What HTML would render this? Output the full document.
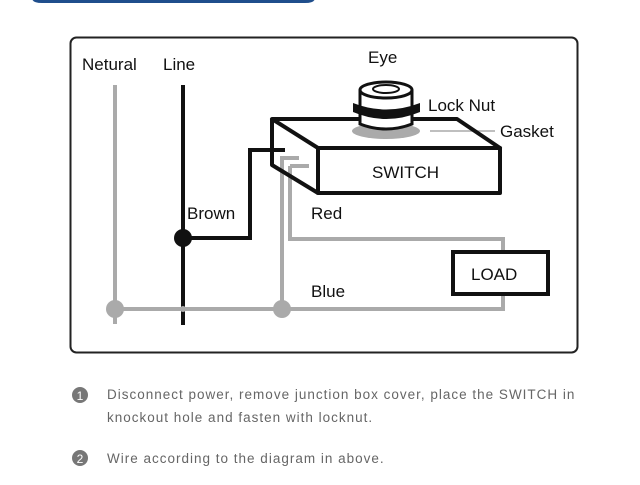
<!DOCTYPE html>
<html><head><style>
body{margin:0;width:640px;height:480px;background:#fff;overflow:hidden;font-family:"Liberation Sans",sans-serif;}
</style></head><body>
<svg width="640" height="480" viewBox="0 0 640 480" xmlns="http://www.w3.org/2000/svg" font-family="Liberation Sans, sans-serif">
<path d="M32 0 H315 V-2 Q315 3 305 3 H42 Q32 3 32 -2Z" fill="#1f4e8c"/>
<rect x="70.5" y="37.5" width="507" height="315" rx="6" fill="none" stroke="#222" stroke-width="2"/>
<!-- gray wires -->
<g stroke="#aaa" stroke-width="4" fill="none">
<line x1="115" y1="85" x2="115" y2="324"/>
<path d="M115 309 H503 V294"/>
<path d="M280 158 H299 M282 158 V309"/>
<path d="M290 166 H309 M290 166 V239 H503 V252"/>
<line x1="430" y1="131" x2="495" y2="131" stroke-width="1.5"/>
</g>
<circle cx="115" cy="309" r="9" fill="#aaa"/>
<circle cx="282" cy="309" r="9" fill="#aaa"/>
<line x1="183" y1="85" x2="183" y2="325" stroke="#111" stroke-width="4"/>
<circle cx="183" cy="309" r="3" fill="#aaa"/>
<path d="M183 238 H250 V150 H285" stroke="#111" stroke-width="4" fill="none"/>
<circle cx="183" cy="238" r="9" fill="#111"/>
<g stroke="#111" stroke-width="4" fill="none" stroke-linejoin="round">
<path d="M272 119 H457 L500 148 H318 Z"/>
<rect x="318" y="148" width="182" height="45"/>
<path d="M272 119 V165 L318 193"/>
</g>
<ellipse cx="386" cy="131" rx="34" ry="8" fill="#aaa"/>
<path d="M360 90 V124 Q386 134 412 124 V90" fill="#fff" stroke="#111" stroke-width="3"/>
<path d="M353 103 Q386 116 420 103 V112 Q386 126 353 112Z" fill="#111"/>
<ellipse cx="386" cy="90" rx="26" ry="8" fill="#fff" stroke="#111" stroke-width="3"/>
<ellipse cx="386" cy="89" rx="13" ry="4" fill="none" stroke="#111" stroke-width="2"/>
<rect x="453" y="252" width="95" height="42" fill="#fff" stroke="#111" stroke-width="4"/>
<g fill="#111" font-size="17">
<text x="82" y="70">Netural</text><text x="163" y="70">Line</text>
<text x="368" y="63">Eye</text>
<text x="428" y="111">Lock Nut</text>
<text x="500" y="137">Gasket</text>
<text x="372" y="178">SWITCH</text>
<text x="187" y="219">Brown</text>
<text x="311" y="219">Red</text>
<text x="311" y="297">Blue</text>
<text x="471" y="280">LOAD</text>
</g>
<circle cx="80" cy="395" r="8" fill="#777"/><text x="80" y="400" font-size="12" fill="#fff" text-anchor="middle">1</text>
<circle cx="80" cy="458" r="8" fill="#777"/><text x="80" y="463" font-size="12" fill="#fff" text-anchor="middle">2</text>
<g fill="#666" font-size="13.5" letter-spacing="1">
<text x="107" y="399">Disconnect power, remove junction box cover, place the SWITCH in</text>
<text x="107" y="422">knockout hole and fasten with locknut.</text>
<text x="107" y="463">Wire according to the diagram in above.</text>
</g>
</svg>
</body></html>
